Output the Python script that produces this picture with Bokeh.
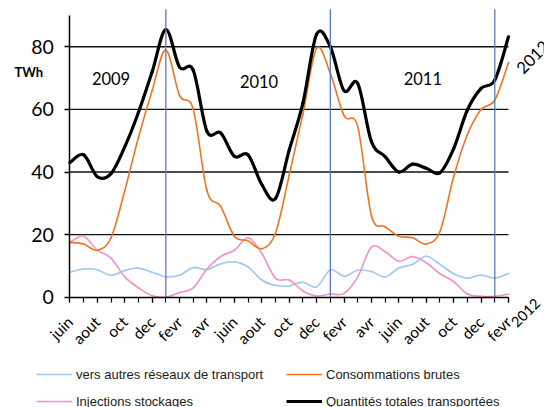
import math
from bokeh.plotting import figure
from bokeh.models import Range1d, FixedTicker, Label, Legend, LegendItem
from bokeh.embed import file_html
from bokeh.resources import INLINE

# ---- data (monthly, juin 2009 .. fevr 2012) ----
months = list(range(33))
tick_positions = list(range(0, 33, 2))
tick_labels = ["juin", "aout", "oct", "dec", "fevr", "avr", "juin", "aout", "oct",
               "dec", "fevr", "avr", "juin", "aout", "oct", "dec", "fevr"]
y_ticks = [0, 20, 40, 60, 80]
grid_values = [20, 40, 60, 80]
year_marks = [7, 19, 31]

total = [43, 45.5, 38.5, 39.5, 48, 59, 72, 85.5, 73.5, 72.5, 53, 52.5, 45, 45.5, 36, 31.5,
         47, 62, 84, 80, 66, 68.3, 49.7, 44.9, 40, 42.5, 41.2, 39.8, 47.5, 59.8, 66.7, 69.4, 83.2]
conso = [17.5, 17, 15, 19, 34, 51, 66, 79, 64.5, 60, 34, 29, 19.5, 18, 15.5, 20.5,
         39, 58.5, 79.5, 71.5, 58, 54.5, 26, 22.5, 19.5, 19, 17, 21, 38.5, 52, 60, 63, 75]
inject = [17.5, 19.5, 15, 12.5, 6.5, 3, 0.5, 0, 1.5, 3, 9, 13, 15, 19, 14, 6,
          5.5, 2, 0.4, 1, 1.2, 6.5, 16, 14.5, 11.5, 13, 11, 7.5, 5, 1, 0.3, 0.3, 1]
autres = [8, 9, 8.8, 7, 8.5, 9.3, 8, 6.5, 7, 9.5, 8.8, 10.7, 11.3, 9.7, 5.5, 3.8,
          3.6, 4.8, 3.3, 8.7, 6.7, 8.6, 8.2, 6.5, 9.3, 10.5, 13.1, 10.5, 7.5, 6.1, 7.1, 6.1, 7.6]

names = {
    "autres": "vers autres réseaux de transport",
    "conso": "Consommations brutes",
    "inject": "Injections stockages",
    "total": "Quantités totales transportées",
}

C_BLUE = "#9cc8f2"
C_ORANGE = "#f47320"
C_PINK = "#f590c8"
C_BLACK = "#000000"
C_VLINE = "#4f81bd"

# ---- layout (pixels) ----
W, H = 544, 407
LEFT, RIGHT, TOP, BOTTOM = 69.4, 508.0, 15.0, 296.7
X0, X1 = months[0], months[-1]
Y0, Y1 = 0, 90
VLINE_TOP = 92
sx = (RIGHT - LEFT) / (X1 - X0)
sy = (BOTTOM - TOP) / (Y1 - Y0)
x_start = X0 - LEFT / sx
x_end = X1 + (W - RIGHT) / sx
y_end = Y1 + TOP / sy
y_start = Y0 - (H - BOTTOM) / sy


def bezier_cols(xs, ys):
    n = len(xs)
    d = dict(x0=[], y0=[], x1=[], y1=[], cx0=[], cy0=[], cx1=[], cy1=[])
    for i in range(n - 1):
        p0 = (xs[max(i - 1, 0)], ys[max(i - 1, 0)])
        p1 = (xs[i], ys[i])
        p2 = (xs[i + 1], ys[i + 1])
        p3 = (xs[min(i + 2, n - 1)], ys[min(i + 2, n - 1)])
        d["x0"].append(p1[0]); d["y0"].append(p1[1])
        d["x1"].append(p2[0]); d["y1"].append(p2[1])
        d["cx0"].append(p1[0] + (p2[0] - p0[0]) / 6.0)
        d["cy0"].append(p1[1] + (p2[1] - p0[1]) / 6.0)
        d["cx1"].append(p2[0] - (p3[0] - p1[0]) / 6.0)
        d["cy1"].append(p2[1] - (p3[1] - p1[1]) / 6.0)
    return d


p = figure(width=W, height=H, x_range=Range1d(x_start, x_end), y_range=Range1d(y_start, y_end),
           output_backend="svg", toolbar_location=None,
           min_border=0, min_border_left=0, min_border_right=0,
           min_border_top=0, min_border_bottom=0)
p.outline_line_color = None
p.background_fill_color = "white"
p.border_fill_color = "white"
p.xgrid.visible = False
p.ygrid.visible = False

# horizontal gridlines limited to the data extent
p.segment(x0=[X0] * len(grid_values), x1=[X1] * len(grid_values),
          y0=grid_values, y1=grid_values, line_color="#111111", line_width=1.4)

yax = p.yaxis[0]
yax.fixed_location = X0
yax.bounds = (Y0, Y1)
yax.ticker = FixedTicker(ticks=y_ticks)
yax.axis_line_color = "black"
yax.axis_line_width = 1.5
yax.major_tick_in = 0
yax.major_tick_out = 5
yax.major_tick_line_width = 1.4
yax.minor_tick_out = 0
yax.minor_tick_in = 0
yax.major_label_text_font = "Lato"
yax.major_label_text_font_size = "19.5px"
yax.major_label_text_color = "black"
yax.major_label_standoff = 11

xax = p.xaxis[0]
xax.fixed_location = Y0
xax.bounds = (X0, X1)
xax.ticker = FixedTicker(ticks=tick_positions, minor_ticks=months)
xax.major_label_overrides = {t: l for t, l in zip(tick_positions, tick_labels)}
xax.major_label_orientation = math.pi / 4
xax.axis_line_color = "black"
xax.axis_line_width = 1.5
xax.major_tick_in = 0
xax.major_tick_out = 5
xax.minor_tick_in = 0
xax.minor_tick_out = 5
xax.major_tick_line_width = 1.2
xax.minor_tick_line_width = 1.2
xax.major_tick_line_color = "black"
xax.minor_tick_line_color = "black"
xax.major_label_text_font = "Lato"
xax.major_label_text_font_size = "15.5px"
xax.major_label_text_color = "black"
xax.major_label_standoff = 17

series = [("autres", autres, C_BLUE, 1.6), ("inject", inject, C_PINK, 1.6),
          ("conso", conso, C_ORANGE, 1.6), ("total", total, C_BLACK, 3.2)]
legend_r = {}
for key, ys, col, w in series:
    p.bezier(source=bezier_cols(months, ys), x0="x0", y0="y0", x1="x1", y1="y1",
             cx0="cx0", cy0="cy0", cx1="cx1", cy1="cy1",
             line_color=col, line_width=w, line_cap="round")
    legend_r[key] = p.line(x=[float("nan")], y=[float("nan")], line_color=col, line_width=w)

# vertical year separators (January)
p.segment(x0=year_marks, x1=year_marks, y0=[Y0] * len(year_marks),
          y1=[VLINE_TOP] * len(year_marks), line_color=C_VLINE, line_width=1.3)

for txt, xx, yy in [("2009", 3.0, 70.0), ("2010", 13.8, 68.9), ("2011", 25.75, 69.8)]:
    p.add_layout(Label(x=xx, y=yy, text=txt, text_font="Lato", text_font_size="16.5px",
                       text_align="center", text_baseline="middle", text_color="black"))
p.add_layout(Label(x=32.75, y=72.5, text="2012", text_font="Lato", text_font_size="16.5px",
                   text_align="left", text_baseline="middle", angle=math.pi / 4,
                   text_color="black"))
p.add_layout(Label(x=32.36, y=-8.7, text="2012", text_font="Lato", text_font_size="14.5px",
                   text_align="left", text_baseline="middle", angle=math.pi / 4,
                   text_color="black"))
p.add_layout(Label(x=-4.05, y=72.1, text="TWh", text_font="Lato", text_font_size="13px",
                   text_font_style="bold", text_align="left", text_baseline="middle",
                   text_color="black"))


def make_legend(keys, loc):
    leg = Legend(items=[LegendItem(label=names[k], renderers=[legend_r[k]]) for k in keys],
                 location=loc, orientation="vertical", border_line_color=None,
                 background_fill_alpha=0, padding=0, margin=0, spacing=11,
                 glyph_width=36, glyph_height=16, label_height=16, label_standoff=4,
                 label_text_font="Liberation Sans", label_text_font_size="13px",
                 label_text_color="#222222")
    p.add_layout(leg)


make_legend(["autres", "inject"], (36, -2))
make_legend(["conso", "total"], (286, -2))

open("out.html", "w").write(file_html(p, INLINE))
